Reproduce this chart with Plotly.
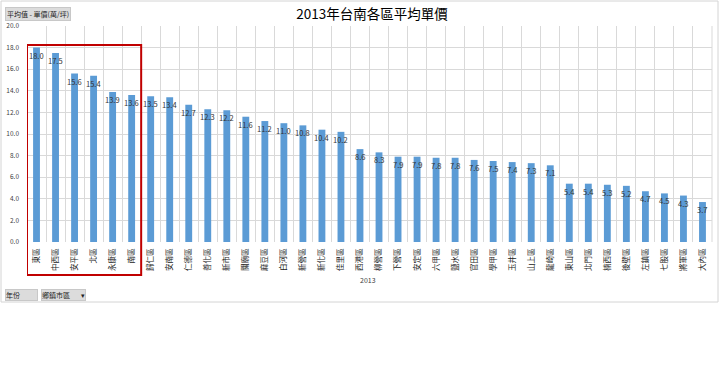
import plotly.graph_objects as go

districts = ["東區", "中西區", "安平區", "北區", "永康區", "南區", "歸仁區", "安南區", "仁德區", "善化區",
             "新市區", "關廟區", "麻豆區", "白河區", "新營區", "新化區", "佳里區", "西港區", "柳營區", "下營區",
             "安定區", "六甲區", "鹽水區", "官田區", "學甲區", "玉井區", "山上區", "龍崎區", "東山區", "北門區",
             "楠西區", "後壁區", "左鎮區", "七股區", "將軍區", "大內區"]
prices = [18.0, 17.5, 15.6, 15.4, 13.9, 13.6, 13.5, 13.4, 12.7, 12.3,
          12.2, 11.6, 11.2, 11.0, 10.8, 10.4, 10.2, 8.6, 8.3, 7.9,
          7.9, 7.8, 7.8, 7.6, 7.5, 7.4, 7.3, 7.1, 5.4, 5.4,
          5.3, 5.2, 4.7, 4.5, 4.3, 3.7]
y_ticks = [0, 2, 4, 6, 8, 10, 12, 14, 16, 18, 20]
title_text = "2013年台南各區平均單價"
x_title = "2013"

FONT = "Noto Sans CJK TC, Noto Sans, sans-serif"

fig = go.Figure()
fig.add_trace(go.Bar(x=districts, y=prices, marker=dict(color="#5B9BD5", line=dict(width=0)),
                     width=0.36, hoverinfo="x+y"))

L, R, T, B = 27, 8, 26, 149
W, H = 720, 391
pw, ph = W - L - R, H - T - B

def px(x):
    return (x - L) / pw

def py(y):
    return (H - B - y) / ph

fig.update_layout(
    width=W, height=H,
    margin=dict(l=L, r=R, t=T, b=B, autoexpand=False),
    paper_bgcolor="white", plot_bgcolor="white",
    showlegend=False,
    title=dict(text=title_text, x=372 / W, xanchor="center", y=1 - 14 / H, yanchor="middle",
               font=dict(size=13.5, color="#000000", family=FONT), automargin=False),
    font=dict(family=FONT),
    xaxis=dict(type="category", tickson="boundaries", showgrid=True, gridcolor="#D9D9D9", gridwidth=1,
               ticks="", tickangle=-90, tickfont=dict(size=7.5, color="#222222", family=FONT),
               showline=False, zeroline=False, range=[-0.5, len(districts) - 0.5], automargin=False,
               ticklabelstandoff=4),
    yaxis=dict(range=[0, 20], tickvals=y_ticks, ticktext=[f"{v:.1f}" for v in y_ticks],
               showgrid=True, gridcolor="#D9D9D9", gridwidth=1, zeroline=False, automargin=False,
               tickfont=dict(size=6.5, color="#404040", family=FONT), ticks="", showline=False,
               ticklabelstandoff=7),
    bargap=0.64,
)

shapes = [
    # outer border
    dict(type="rect", xref="paper", yref="paper", x0=px(1), x1=px(718), y0=py(1), y1=py(302),
         line=dict(color="#D4D4D4", width=1), fillcolor="rgba(0,0,0,0)", layer="below"),
    # right border of plot
    dict(type="line", xref="paper", yref="paper", x0=1, x1=1, y0=0, y1=1,
         line=dict(color="#D9D9D9", width=1)),
    # red highlight box
    dict(type="rect", xref="x", yref="paper", x0=-0.5, x1=5.5, y0=py(275), y1=py(45),
         line=dict(color="#C00000", width=2), fillcolor="rgba(0,0,0,0)"),
]
fig.update_layout(shapes=shapes)

annotations = [
    dict(text=f"{v:.1f}", x=d, y=v, xref="x", yref="y", yanchor="top", yshift=0, showarrow=False,
         font=dict(size=7.5, color="#333333", family=FONT))
    for d, v in zip(districts, prices)
]
annotations += [
    dict(text=x_title, xref="paper", yref="paper", x=px(368), y=py(280), xanchor="center",
         yanchor="middle", showarrow=False, font=dict(size=7, color="#404040", family=FONT)),
    dict(text="平均值 - 單價(萬/坪)", xref="paper", yref="paper", x=px(5), y=py(7), xanchor="left",
         yanchor="top", showarrow=False, bgcolor="#DCDCDC", bordercolor="#C8C8C8", borderwidth=1,
         borderpad=1, font=dict(size=7, color="#222222", family=FONT)),
    dict(text="年份&nbsp;&nbsp;&nbsp;&nbsp;&nbsp;&nbsp;&nbsp;&nbsp;&nbsp;&nbsp;&nbsp;", xref="paper", yref="paper",
         x=px(5), y=py(289), xanchor="left", yanchor="top", showarrow=False, bgcolor="#DCDCDC",
         bordercolor="#C8C8C8", borderwidth=1, borderpad=0, font=dict(size=7, color="#222222", family=FONT)),
    dict(text="鄉鎮市區&nbsp;&nbsp;&nbsp;&nbsp;&nbsp;&nbsp;&nbsp;▾", xref="paper", yref="paper", x=px(41), y=py(289),
         xanchor="left", yanchor="top", showarrow=False, bgcolor="#DCDCDC", bordercolor="#C8C8C8",
         borderwidth=1, borderpad=0, font=dict(size=7, color="#222222", family=FONT)),
]
fig.update_layout(annotations=annotations)

fig.write_html("out.html", config={"displayModeBar": False},
               post_script="document.body.style.margin='0';document.body.style.overflow='hidden';")
